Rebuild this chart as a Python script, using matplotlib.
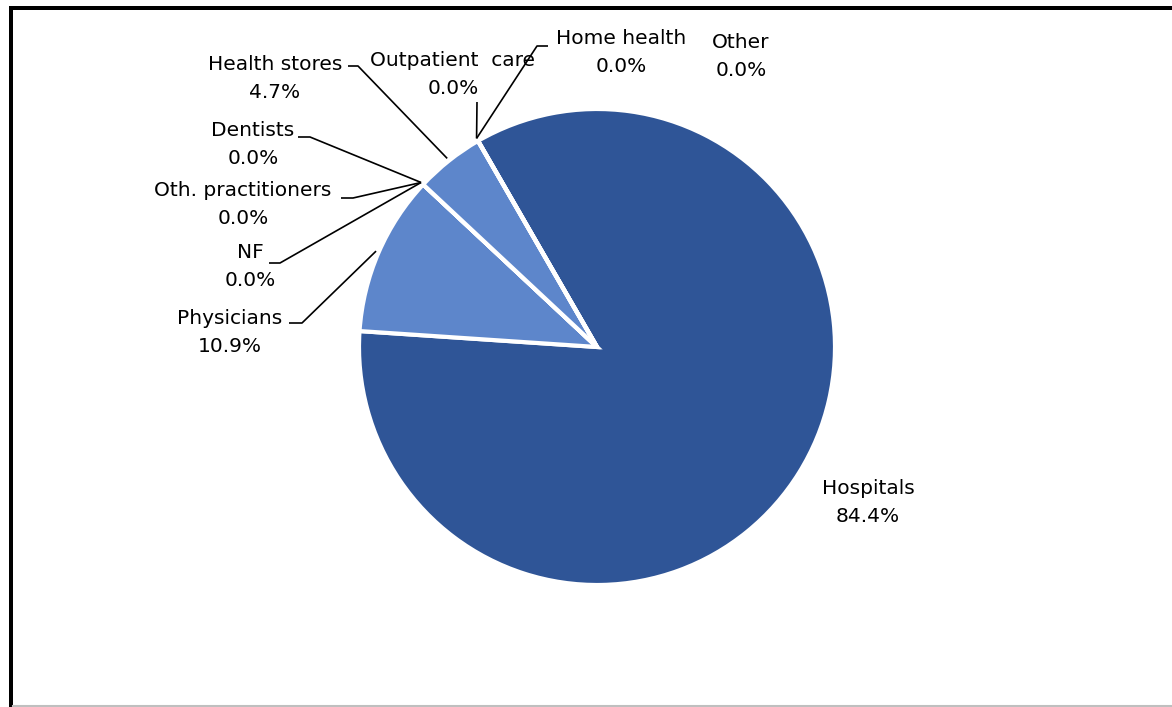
import numpy as np
import matplotlib
matplotlib.use("Agg")
from matplotlib import pyplot as plt
from matplotlib.patches import Rectangle

# slice data, clockwise from the Hospitals start
labels = ['Hospitals', 'Physicians', 'NF', 'Oth. practitioners', 'Dentists',
          'Health stores', 'Outpatient  care', 'Home health', 'Other']
shares = [84.4, 10.9, 0.0, 0.0, 0.0, 4.7, 0.0, 0.0, 0.0]
dark = '#2F5597'
light = '#5D86CB'
colors = [dark, light, light, light, light, light, dark, dark, dark]

W, H = 1172, 707
cx, cy, R = 597, H - 347, 238
start = 120.0

# label layout in pixel coords (top-down): text centre, leader path points
layout = {
    'Hospitals':          ((868, 502), None),
    'Physicians':         ((230, 332), [(289, 323), (302, 323)]),
    'NF':                 ((250, 266), [(269, 263), (280, 263)]),
    'Oth. practitioners': ((243, 205), [(341, 198), (353, 198)]),
    'Dentists':           ((253, 144), [(298, 137), (310, 137)]),
    'Health stores':      ((275, 79), [(348, 66), (358, 66)]),
    'Outpatient  care':   ((453, 74), [(477, 102)]),
    'Home health':        ((621, 53), [(548, 46), (537, 46)]),
    'Other':              ((741, 56), None),
}

fig = plt.figure(figsize=(W / 100, H / 100), dpi=100)
ax = fig.add_axes([0, 0, 1, 1])

ax.pie(shares, colors=colors, startangle=start, counterclock=False,
       center=(cx, cy), radius=R,
       wedgeprops=dict(edgecolor='white', linewidth=3))

ax.set_xlim(0, W)
ax.set_ylim(0, H)
ax.set_aspect('equal')
ax.axis('off')

total = sum(shares)
cum = np.cumsum([0] + shares)
for i, name in enumerate(labels):
    (tx, ty), path = layout[name]
    ax.text(tx, H - ty, '%s\n%.1f%%' % (name, shares[i]), ha='center', va='center',
            fontsize=14.5, family='DejaVu Sans', linespacing=1.6, color='black')
    if path is None:
        continue
    mid = start - 360 * (cum[i] + shares[i] / 2) / total
    a = np.deg2rad(mid)
    tip = (cx + 1.012 * R * np.cos(a), cy + 1.012 * R * np.sin(a))
    xs = [p[0] for p in path] + [tip[0]]
    ys = [H - p[1] for p in path] + [tip[1]]
    ax.plot(xs, ys, color='black', lw=1.2, solid_capstyle='butt')

# outer frame
ax.add_patch(Rectangle((9, 0), 4, H - 6, color='black', lw=0, clip_on=False))
ax.add_patch(Rectangle((9, H - 10), W, 4, color='black', lw=0, clip_on=False))
ax.plot([13, W], [0.6, 0.6], color='#BFBFBF', lw=1.5)

fig.savefig('out.png', dpi=100)
